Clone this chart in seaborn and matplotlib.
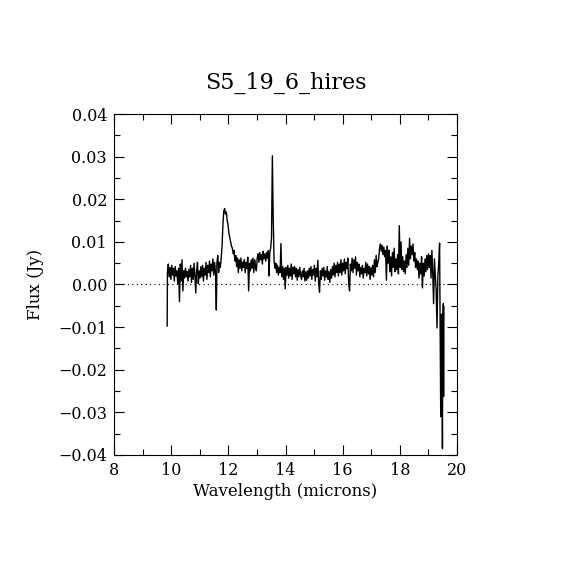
import numpy as np
import pandas as pd
import matplotlib
matplotlib.use("Agg")
import matplotlib.pyplot as plt
import seaborn as sns
from matplotlib.ticker import MultipleLocator, FuncFormatter

# spectrum (Jy vs microns)
wavelength = [
    9.86, 9.87, 9.90, 9.93, 9.96, 9.99, 10.02, 10.05, 10.08, 10.11,
    10.14, 10.17, 10.20, 10.23, 10.26, 10.29, 10.32, 10.35, 10.38, 10.41,
    10.44, 10.47, 10.50, 10.53, 10.56, 10.59, 10.62, 10.65, 10.68, 10.71,
    10.74, 10.77, 10.80, 10.83, 10.86, 10.89, 10.92, 10.95, 10.98, 11.01,
    11.04, 11.07, 11.10, 11.13, 11.16, 11.19, 11.22, 11.25, 11.28, 11.31,
    11.34, 11.37, 11.40, 11.43, 11.46, 11.49, 11.52, 11.55, 11.58, 11.60,
    11.63, 11.66, 11.69, 11.72, 11.75, 11.78, 11.81, 11.84, 11.87, 11.90,
    11.93, 11.96, 11.99, 12.02, 12.05, 12.08, 12.11, 12.14, 12.17, 12.20,
    12.23, 12.26, 12.29, 12.32, 12.35, 12.38, 12.41, 12.44, 12.47, 12.50,
    12.53, 12.56, 12.59, 12.62, 12.65, 12.68, 12.71, 12.74, 12.77, 12.80,
    12.83, 12.86, 12.89, 12.92, 12.95, 12.98, 13.01, 13.04, 13.07, 13.10,
    13.13, 13.16, 13.19, 13.22, 13.25, 13.28, 13.31, 13.34, 13.37, 13.40,
    13.42, 13.45, 13.48, 13.51, 13.54, 13.57, 13.60, 13.63, 13.66, 13.69,
    13.72, 13.75, 13.78, 13.81, 13.84, 13.87, 13.90, 13.93, 13.96, 13.99,
    14.02, 14.05, 14.08, 14.11, 14.14, 14.17, 14.20, 14.23, 14.26, 14.29,
    14.32, 14.35, 14.38, 14.41, 14.44, 14.47, 14.50, 14.53, 14.56, 14.59,
    14.62, 14.65, 14.68, 14.71, 14.74, 14.77, 14.80, 14.83, 14.86, 14.89,
    14.92, 14.95, 14.98, 15.01, 15.04, 15.07, 15.10, 15.13, 15.16, 15.19,
    15.22, 15.25, 15.28, 15.31, 15.34, 15.37, 15.40, 15.43, 15.46, 15.49,
    15.52, 15.55, 15.58, 15.61, 15.64, 15.67, 15.70, 15.73, 15.76, 15.79,
    15.82, 15.85, 15.88, 15.91, 15.94, 15.97, 16.00, 16.03, 16.06, 16.09,
    16.12, 16.15, 16.18, 16.21, 16.24, 16.27, 16.30, 16.33, 16.36, 16.39,
    16.42, 16.45, 16.48, 16.51, 16.54, 16.57, 16.60, 16.63, 16.66, 16.69,
    16.72, 16.75, 16.78, 16.81, 16.84, 16.87, 16.90, 16.93, 16.96, 16.99,
    17.02, 17.05, 17.08, 17.11, 17.14, 17.17, 17.20, 17.23, 17.26, 17.29,
    17.32, 17.35, 17.38, 17.41, 17.44, 17.47, 17.50, 17.53, 17.56, 17.59,
    17.62, 17.65, 17.68, 17.71, 17.74, 17.77, 17.80, 17.83, 17.86, 17.89,
    17.92, 17.95, 17.98, 18.01, 18.04, 18.07, 18.10, 18.13, 18.16, 18.19,
    18.22, 18.25, 18.28, 18.31, 18.34, 18.37, 18.40, 18.43, 18.46, 18.49,
    18.52, 18.55, 18.58, 18.61, 18.64, 18.67, 18.70, 18.73, 18.76, 18.79,
    18.82, 18.85, 18.88, 18.91, 18.94, 18.97, 19.00, 19.03, 19.06, 19.09,
    19.12, 19.15, 19.18, 19.21, 19.24, 19.27, 19.30, 19.33, 19.36, 19.39,
    19.41, 19.43, 19.45, 19.46, 19.47, 19.48, 19.49, 19.50, 19.51, 19.52,
    19.53, 19.54,
]
flux = [
    -0.0098, 0.0030, 0.0048, 0.0018, 0.0040, 0.0012, 0.0045, 0.0022, 0.0038, 0.0008,
    0.0042, 0.0020, 0.0032, 0.0002, 0.0038, -0.0040, 0.0048, 0.0008, 0.0058, -0.0015,
    0.0032, 0.0015, 0.0038, 0.0018, 0.0030, 0.0008, 0.0035, 0.0018, 0.0045, 0.0005,
    0.0038, 0.0012, 0.0050, 0.0022, -0.0020, 0.0032, 0.0052, 0.0002, 0.0032, 0.0015,
    0.0042, 0.0018, 0.0045, 0.0008, 0.0038, 0.0022, 0.0052, 0.0012, 0.0045, 0.0028,
    0.0055, 0.0018, 0.0048, 0.0032, 0.0060, 0.0022, 0.0052, 0.0028, -0.0060, 0.0050,
    0.0068, 0.0028, 0.0052, 0.0040, 0.0062, 0.0090, 0.0140, 0.0172, 0.0178, 0.0165,
    0.0170, 0.0150, 0.0140, 0.0120, 0.0110, 0.0100, 0.0090, 0.0085, 0.0072, 0.0080,
    0.0055, 0.0068, 0.0042, 0.0062, 0.0028, 0.0058, 0.0038, 0.0062, 0.0032, 0.0052,
    0.0040, 0.0058, 0.0028, 0.0052, 0.0038, 0.0064, -0.0015, 0.0050, 0.0032, 0.0058,
    0.0038, 0.0062, 0.0028, 0.0058, 0.0042, 0.0032, 0.0062, 0.0072, 0.0052, 0.0075,
    0.0058, 0.0070, 0.0048, 0.0078, 0.0060, 0.0072, 0.0055, 0.0075, 0.0062, 0.0080,
    0.0020, 0.0075, 0.0085, 0.0110, 0.0302, 0.0155, 0.0055, 0.0038, 0.0050, 0.0028,
    0.0045, 0.0022, 0.0040, 0.0028, 0.0096, 0.0018, 0.0042, 0.0012, 0.0038, -0.0010,
    0.0040, 0.0022, 0.0045, 0.0015, 0.0038, 0.0020, 0.0048, 0.0012, 0.0040, 0.0025,
    0.0042, 0.0018, 0.0038, 0.0010, 0.0035, 0.0018, 0.0040, 0.0022, 0.0012, 0.0032,
    0.0018, 0.0038, 0.0008, 0.0030, 0.0010, 0.0032, 0.0015, 0.0038, 0.0020, 0.0042,
    0.0012, 0.0035, 0.0022, 0.0045, 0.0008, 0.0038, 0.0018, 0.0057, 0.0003, -0.0018,
    0.0032, 0.0012, 0.0038, 0.0020, 0.0040, 0.0010, 0.0032, 0.0018, 0.0042, 0.0012,
    0.0030, 0.0005, 0.0035, 0.0015, 0.0042, 0.0022, 0.0050, 0.0018, 0.0045, 0.0028,
    0.0052, 0.0020, 0.0048, 0.0028, 0.0058, 0.0022, 0.0050, 0.0032, 0.0060, 0.0025,
    0.0052, 0.0038, 0.0062, 0.0003, -0.0015, 0.0048, 0.0032, 0.0062, 0.0028, 0.0058,
    0.0038, 0.0065, 0.0022, 0.0052, 0.0032, 0.0048, 0.0018, 0.0040, 0.0025, 0.0045,
    0.0015, 0.0038, 0.0028, 0.0052, 0.0020, 0.0048, 0.0025, 0.0042, 0.0012, 0.0040,
    0.0022, 0.0045, 0.0018, 0.0058, 0.0028, 0.0068, 0.0042, 0.0052, 0.0060, 0.0085,
    0.0095, 0.0078, 0.0092, 0.0070, 0.0088, 0.0065, 0.0080, 0.0010, 0.0090, 0.0050,
    0.0080, 0.0030, 0.0065, 0.0020, 0.0075, 0.0040, 0.0085, 0.0030, 0.0060, 0.0035,
    0.0070, 0.0025, 0.0138, 0.0040, 0.0100, 0.0035, 0.0065, 0.0030, 0.0055, 0.0025,
    0.0070, 0.0040, 0.0085, 0.0045, 0.0108, 0.0060, 0.0090, 0.0070, 0.0095, 0.0055,
    0.0075, 0.0040, 0.0060, 0.0035, 0.0055, 0.0015, 0.0050, 0.0025, 0.0065, -0.0008,
    0.0050, 0.0020, 0.0060, 0.0030, 0.0068, 0.0035, 0.0072, 0.0040, 0.0068, 0.0015,
    0.0080, 0.0030, -0.0045, 0.0060, 0.0020, -0.0015, -0.0102, 0.0020, 0.0050, 0.0097,
    -0.0090, -0.0310, -0.0070, -0.0260, -0.0075, -0.0250, -0.0385, -0.0068, -0.0200, -0.0045,
    -0.0263, -0.0050,
]
title = "S5_19_6_hires"

df = pd.DataFrame({"Wavelength": wavelength, "Flux": flux})

sns.set_style("ticks")
plt.rcParams["font.family"] = ["DejaVu Serif"]
plt.rcParams["text.color"] = "black"
plt.rcParams["axes.labelcolor"] = "black"

fig = plt.figure(figsize=(5.7, 5.7), dpi=100)
ax = fig.add_axes([0.2, 0.2018, 0.6018, 0.5982])

sns.lineplot(data=df, x="Wavelength", y="Flux", color="black", linewidth=1.0,
             estimator=None, sort=False, ax=ax)
ax.axhline(0, color="black", linestyle=(0, (1, 3)), linewidth=0.8)

ax.set_xlim(8, 20)
ax.set_ylim(-0.04, 0.04)
ax.xaxis.set_major_locator(MultipleLocator(2))
ax.xaxis.set_minor_locator(MultipleLocator(1))
ax.yaxis.set_major_locator(MultipleLocator(0.01))
ax.yaxis.set_minor_locator(MultipleLocator(0.005))
ax.yaxis.set_major_formatter(FuncFormatter(lambda v, p: f"{v:.2f}".replace("-", "\u2212")))
ax.tick_params(which="both", direction="in", top=True, right=True,
               color="black", width=0.8, labelsize=11.5, labelcolor="black", pad=5)
ax.tick_params(which="major", length=7)
ax.tick_params(which="minor", length=4)
for s in ax.spines.values():
    s.set_color("black")
    s.set_linewidth(0.8)

ax.set_xlabel("Wavelength (microns)", fontsize=12, labelpad=3, color="black")
ax.set_ylabel("Flux (Jy)", fontsize=12, labelpad=10, color="black")
ax.set_title(title, fontsize=16, pad=18, color="black")

fig.savefig("out.png", dpi=100, facecolor="white")
